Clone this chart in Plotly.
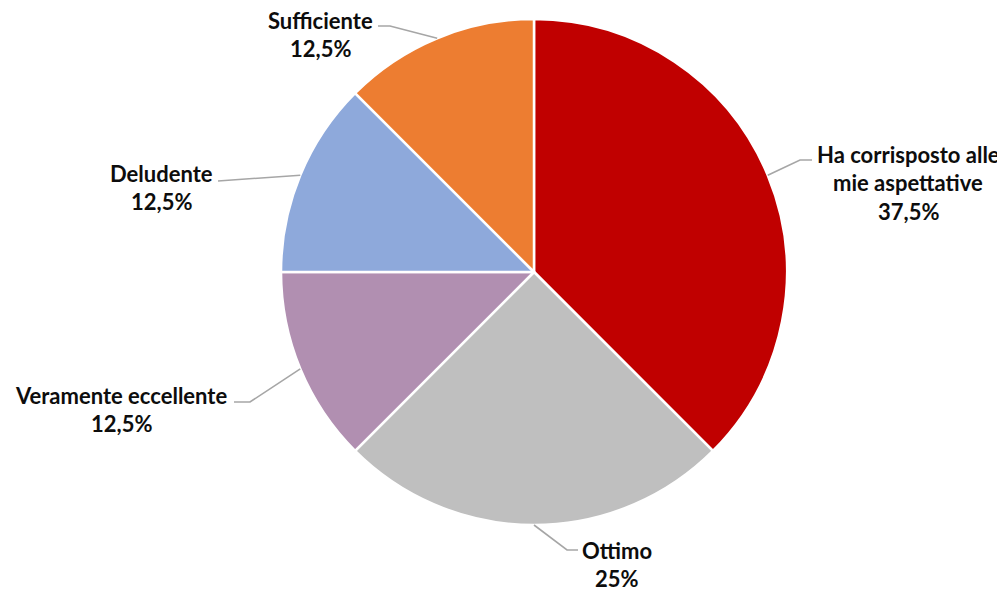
import math
import plotly.graph_objects as go

# ---- data ----
categories = ["Ha corrisposto alle mie aspettative", "Ottimo", "Veramente eccellente", "Deludente", "Sufficiente"]
label_lines = [["Ha corrisposto alle", "mie aspettative"], ["Ottimo"], ["Veramente eccellente"], ["Deludente"], ["Sufficiente"]]
values = [37.5, 25, 12.5, 12.5, 12.5]
pct_labels = ["37,5%", "25%", "12,5%", "12,5%", "12,5%"]

# ---- styles / layout ----
colors = ["#C00000", "#BFBFBF", "#B18FB1", "#8EA9DB", "#ED7D31"]
OFF = 8  # page body margin of the browser
W, H = 1005 - OFF, 590 - OFF
CX, CY, R = 534, 272, 253
FONT = "Lato"
FSIZE = 22
TXT = "#0D0D0D"
LINE_COL = "#A6A6A6"

# label layout (reference pixel positions): text center, first line y, elbow, end
label_layout = [
    dict(tx=908, ty=154, elbow=(800, 160), end=(812, 160)),
    dict(tx=617, ty=550, elbow=(567, 550), end=(578, 550)),
    dict(tx=121, ty=395, elbow=(250, 402), end=(234, 402)),
    dict(tx=161, ty=173, elbow=(218, 181), end=(218, 181)),
    dict(tx=320, ty=20, elbow=(390, 26), end=(378, 26)),
]
LINE_STEP = 28.5

def px(x):
    return (x - OFF) / W

def py(y):
    return 1 - (y - OFF) / H

fig = go.Figure(go.Pie(
    labels=categories,
    values=values,
    sort=False,
    direction="clockwise",
    rotation=0,
    marker=dict(colors=colors, line=dict(color="white", width=2.5)),
    textinfo="none",
    hoverinfo="label+percent",
    showlegend=False,
    domain=dict(x=[px(CX - 300), px(CX + 300)], y=[py(CY + R), py(CY - R)]),
))

total = sum(values)
cum = 0.0
shapes = []
annotations = []
for i, v in enumerate(values):
    mid = (cum + v / 2) / total * 2 * math.pi
    cum += v
    ex = CX + R * math.sin(mid)
    ey = CY - R * math.cos(mid)
    lay = label_layout[i]
    bx, by = lay["elbow"]
    tx, ty = lay["end"]
    path = f"M {px(ex)} {py(ey)} L {px(bx)} {py(by)} L {px(tx)} {py(ty)}"
    shapes.append(dict(type="path", path=path, xref="paper", yref="paper",
                       line=dict(color=LINE_COL, width=1.6)))
    lines = label_lines[i] + [pct_labels[i]]
    for k, t in enumerate(lines):
        annotations.append(dict(
            x=px(lay["tx"]), y=py(lay["ty"] + k * LINE_STEP), xref="paper", yref="paper",
            text=f"<b>{t}</b>", showarrow=False, xanchor="center", yanchor="middle",
            font=dict(family=FONT, size=FSIZE, color=TXT),
        ))

fig.update_layout(
    width=W, height=H,
    margin=dict(l=0, r=0, t=0, b=0),
    paper_bgcolor="white", plot_bgcolor="white",
    shapes=shapes, annotations=annotations,
)

fig.write_html("out.html")
